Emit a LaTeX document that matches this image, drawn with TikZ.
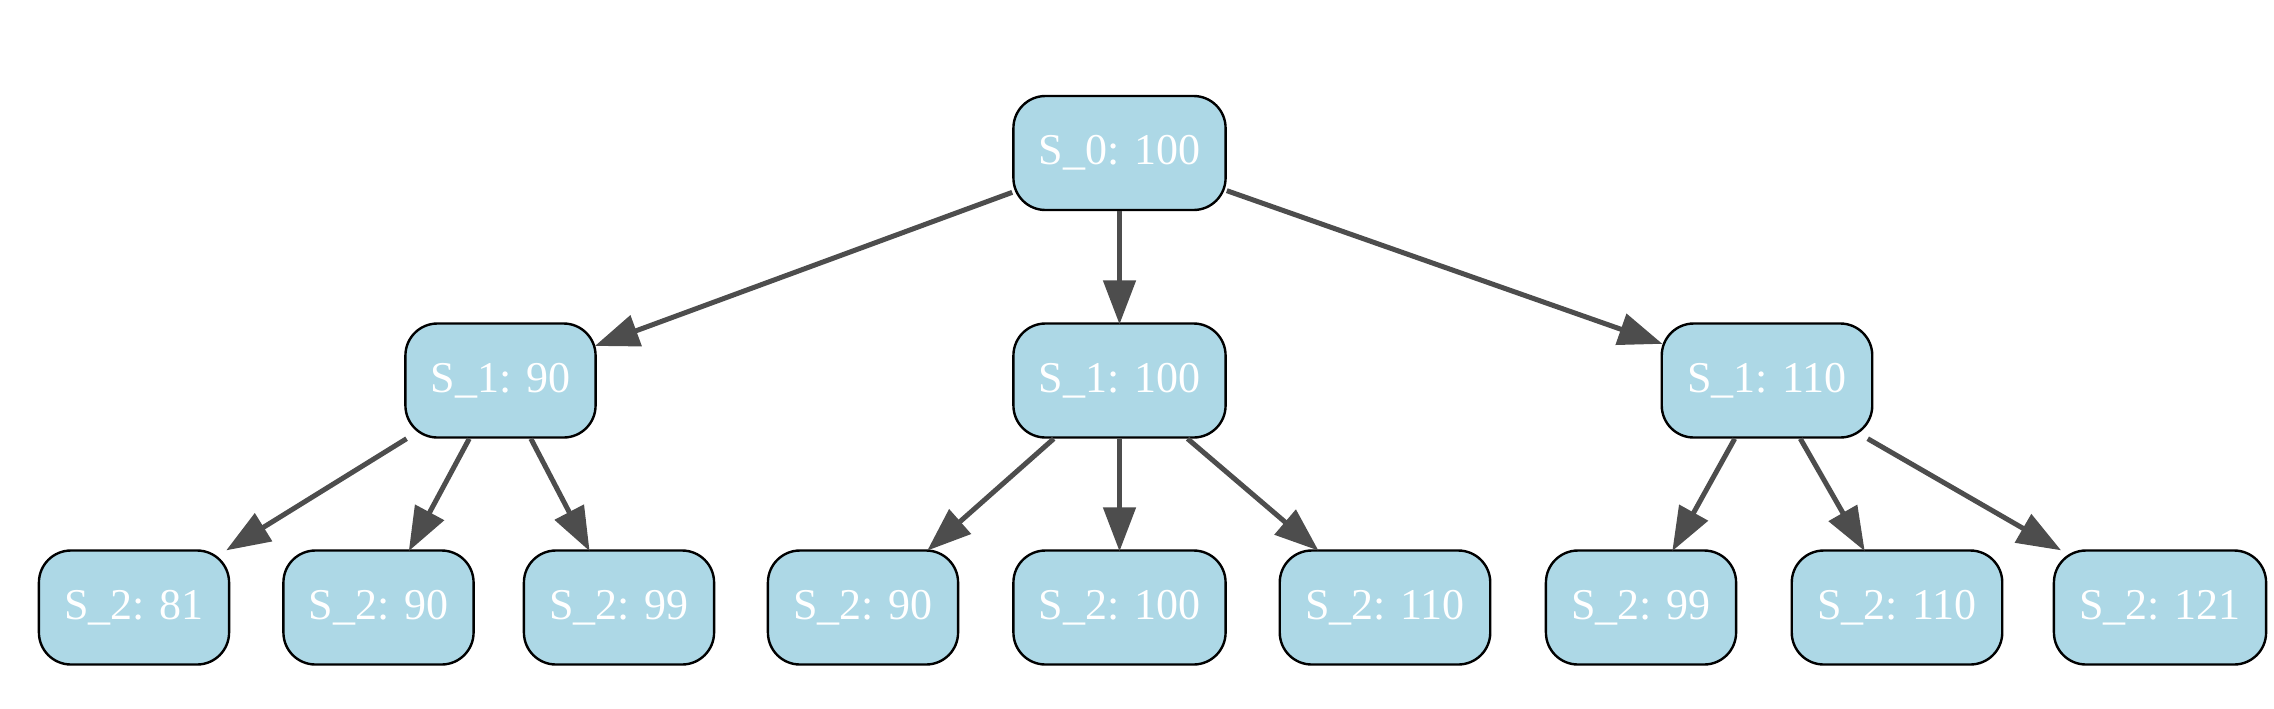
\documentclass[tikz,border=0pt]{standalone}
\usepackage{fontspec}
\setmainfont{Liberation Serif}
\definecolor{nodeblue}{RGB}{173, 216, 230}
\definecolor{edgegray}{RGB}{77, 77, 77}
\usetikzlibrary{arrows.meta, positioning}

\tikzset{
  state/.style={draw=black, line width=1.2pt, fill=nodeblue, rounded corners=16pt,
    minimum height=57pt, inner xsep=12.7pt, text=white, font=\fontsize{22}{26}\selectfont},
  edge/.style={draw=edgegray, line width=2.5pt, -{Triangle[length=22pt, width=16pt]}, shorten >=-1pt}
}

\begin{document}
\begin{tikzpicture}[x=0.5pt, y=-0.5pt]
  \useasboundingbox (0,0) rectangle (2274,708);

  % root
  \node[state] (s0) at (1119.5,153) {S\_0: 100};

  % step 1
  \node[state] (s1a) at (500.5,380.5) {S\_1: 90};
  \node[state] (s1b) at (1119.5,380.5) {S\_1: 100};
  \node[state] (s1c) at (1767,380.5) {S\_1: 110};

  % step 2
  \node[state] (s2a) at (134,607.5) {S\_2: 81};
  \node[state] (s2b) at (378.5,607.5) {S\_2: 90};
  \node[state] (s2c) at (619,607.5) {S\_2: 99};
  \node[state] (s2d) at (863,607.5) {S\_2: 90};
  \node[state] (s2e) at (1119.5,607.5) {S\_2: 100};
  \node[state] (s2f) at (1385,607.5) {S\_2: 110};
  \node[state] (s2g) at (1641,607.5) {S\_2: 99};
  \node[state] (s2h) at (1897,607.5) {S\_2: 110};
  \node[state] (s2i) at (2160,607.5) {S\_2: 121};

  \foreach \from/\to in {s0/s1a, s0/s1b, s0/s1c,
      s1a/s2a, s1a/s2b, s1a/s2c,
      s1b/s2d, s1b/s2e, s1b/s2f,
      s1c/s2g, s1c/s2h, s1c/s2i}
    \draw[edge] (\from) -- (\to);
\end{tikzpicture}
\end{document}
